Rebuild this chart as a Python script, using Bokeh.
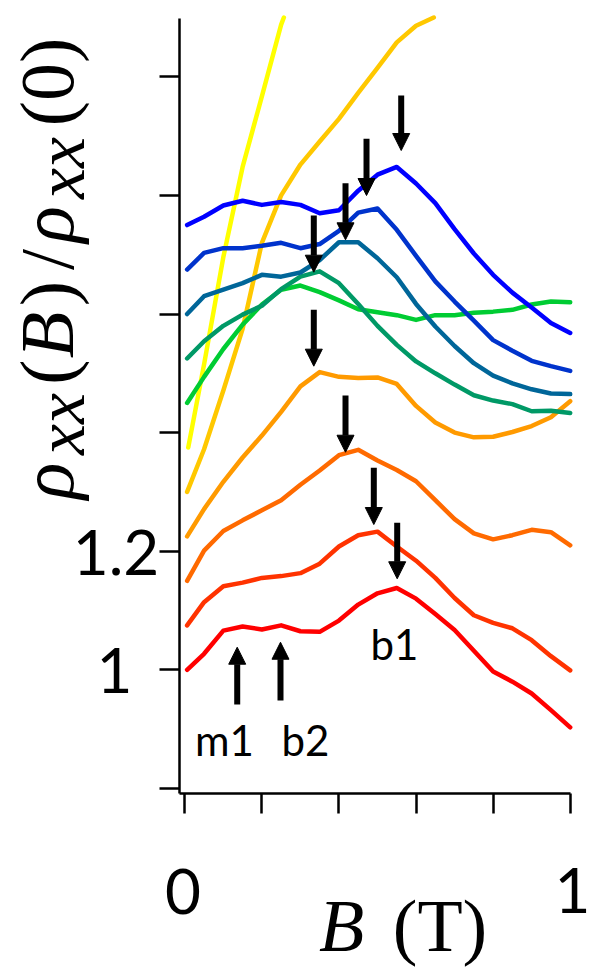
import numpy as np
from bokeh.plotting import figure
from bokeh.models import Range1d, FixedTicker, Label, Arrow, NormalHead, CustomJSTickFormatter
from bokeh.embed import file_html
from bokeh.resources import INLINE

# ---- data (B in tesla, rho_xx(B)/rho_xx(0), curves offset for clarity) ----
B = [0.006, 0.05, 0.10, 0.15, 0.20, 0.25, 0.30, 0.35, 0.40, 0.45, 0.50,
     0.55, 0.60, 0.65, 0.70, 0.75, 0.80, 0.85, 0.90, 0.95, 1.00]

red        = [1.000, 1.027, 1.066, 1.073, 1.068, 1.075, 1.065, 1.064, 1.083, 1.110, 1.129,
              1.138, 1.120, 1.094, 1.067, 1.032, 0.997, 0.980, 0.960, 0.932, 0.903]
red_orange = [1.075, 1.114, 1.141, 1.147, 1.155, 1.158, 1.163, 1.179, 1.208, 1.227, 1.233,
              1.208, 1.184, 1.155, 1.121, 1.092, 1.079, 1.070, 1.050, 1.023, 0.999]
orange     = [1.150, 1.201, 1.234, 1.252, 1.269, 1.286, 1.312, 1.336, 1.362, 1.371, 1.353,
              1.337, 1.318, 1.286, 1.254, 1.230, 1.220, 1.227, 1.236, 1.232, 1.210]
amber      = [1.225, 1.271, 1.317, 1.358, 1.395, 1.435, 1.478, 1.502, 1.494, 1.492, 1.493,
              1.482, 1.445, 1.417, 1.400, 1.392, 1.393, 1.401, 1.411, 1.426, 1.453]
green      = [1.450, 1.494, 1.541, 1.582, 1.616, 1.641, 1.648, 1.637, 1.623, 1.608, 1.603,
              1.598, 1.590, 1.598, 1.598, 1.602, 1.604, 1.607, 1.616, 1.621, 1.620]
teal_green = [1.525, 1.554, 1.580, 1.599, 1.614, 1.642, 1.663, 1.672, 1.652, 1.617, 1.580,
              1.548, 1.520, 1.500, 1.481, 1.463, 1.454, 1.448, 1.436, 1.437, 1.433]
teal_blue  = [1.600, 1.630, 1.641, 1.652, 1.666, 1.663, 1.670, 1.691, 1.721, 1.721, 1.694,
              1.662, 1.617, 1.579, 1.546, 1.517, 1.496, 1.483, 1.473, 1.466, 1.465]
dark_blue  = [1.675, 1.703, 1.711, 1.711, 1.715, 1.720, 1.711, 1.718, 1.740, 1.771, 1.778,
              1.742, 1.698, 1.655, 1.621, 1.589, 1.556, 1.538, 1.521, 1.512, 1.504]
blue       = [1.750, 1.764, 1.783, 1.791, 1.784, 1.789, 1.784, 1.770, 1.775, 1.808, 1.835,
              1.848, 1.820, 1.787, 1.743, 1.702, 1.666, 1.636, 1.611, 1.585, 1.568]

B_gold = [0.006, 0.05, 0.10, 0.15, 0.20, 0.25, 0.30, 0.35, 0.40, 0.45, 0.50, 0.55, 0.60, 0.646]
gold   = [1.300, 1.372, 1.471, 1.575, 1.720, 1.800, 1.852, 1.891, 1.929, 1.973, 2.015, 2.058, 2.086, 2.100]

B_yellow = [0.009, 0.05, 0.10, 0.15, 0.20, 0.25, 0.257]
yellow   = [1.375, 1.515, 1.696, 1.848, 1.967, 2.088, 2.100]

# peak markers (down arrows) and low-field markers (up arrows)
peak_B      = [0.5615, 0.4715, 0.4170, 0.3347, 0.3347, 0.4170, 0.4904, 0.5511]
peak_top    = [1.9685, 1.8954, 1.8206, 1.7661, 1.6071, 1.4626, 1.3406, 1.2479]
peak_tip    = [1.8757, 1.7998, 1.7251, 1.6705, 1.5120, 1.3669, 1.2450, 1.1535]
low_B       = [0.136, 0.2483]
low_tail    = [0.9415, 0.9482]
low_tip     = [1.0381, 1.0465]

x_ticks = [0.0, 0.2, 0.4, 0.6, 0.8, 1.0]
y_ticks = [0.8, 1.0, 1.2, 1.4, 1.6, 1.8, 2.0]
x_bounds = (-0.0138, 1.0008)
y_bounds = (0.7914, 2.0983)

# ---- figure: the frame fills the page, axes sit at fixed data locations ----
p = figure(width=591, height=969,
           x_range=Range1d(-0.47821, 1.05526), y_range=Range1d(0.49461, 2.12867),
           output_backend="svg", toolbar_location=None,
           min_border_left=0, min_border_right=0, min_border_top=0, min_border_bottom=0)
p.grid.visible = False
p.outline_line_color = None
p.background_fill_color = "white"
p.border_fill_color = "white"

blank = CustomJSTickFormatter(code="return ''")
p.xaxis.fixed_location = y_bounds[0]
p.yaxis.fixed_location = x_bounds[0]
p.xaxis.bounds = x_bounds
p.yaxis.bounds = y_bounds
for ax, ticks in ((p.xaxis, x_ticks), (p.yaxis, y_ticks)):
    ax.ticker = FixedTicker(ticks=ticks, minor_ticks=[])
    ax.formatter = blank
    ax.major_tick_out = 20
    ax.major_tick_in = 0
    ax.major_tick_line_width = 2.5
    ax.major_tick_line_color = "black"
    ax.axis_line_width = 2.5
    ax.axis_line_color = "black"
    ax.minor_tick_line_color = None

series = [
    (B_yellow, yellow, "#FFFF00"),
    (B_gold, gold, "#FFC800"),
    (B, red, "#FF0000"),
    (B, red_orange, "#FF3300"),
    (B, orange, "#FF6A00"),
    (B, amber, "#FF9A00"),
    (B, green, "#00CC33"),
    (B, teal_green, "#009966"),
    (B, teal_blue, "#006699"),
    (B, dark_blue, "#0033CC"),
    (B, blue, "#0000FF"),
]
for xs, ys, c in series:
    p.line(xs, ys, line_color=c, line_width=4.5, line_cap="round", line_join="round")

for xb, y0, y1 in list(zip(peak_B, peak_top, peak_tip)) + list(zip(low_B, low_tail, low_tip)):
    p.add_layout(Arrow(x_start=xb, y_start=y0, x_end=xb, y_end=y1,
                       line_width=6, line_color="black",
                       end=NormalHead(size=17, fill_color="black", line_color="black", line_width=1)))

def lab(x, y, text, size, font="Lato", style="normal", angle=0.0, align="center"):
    p.add_layout(Label(x=x, y=y, text=text, text_font=font, text_font_size=f"{size}px",
                       text_font_style=style, text_color="black", angle=angle,
                       text_align=align, text_baseline="middle"))

# tick labels
lab(-0.1824, 0.9988, "1", 62)
lab(-0.1785, 1.1970, "1.2", 62)
lab(-0.0047, 0.6261, "0", 62)
lab(1.0527, 0.6278, "1", 62, align="right")

# feature labels
lab(0.1030, 0.8808, "m1", 42)
lab(0.3132, 0.8808, "b2", 42)
lab(0.5441, 1.0427, "b1", 42)

# x axis title
lab(0.4066, 0.5688, "B", 74, font="Liberation Serif", style="italic")
lab(0.6622, 0.5688, "(T)", 74, font="Liberation Serif")

# y axis title, rotated, assembled piece by piece
rot = np.pi / 2
yl = [("ρ", "italic", 1.3184, -0.3578, 76),
      ("xx", "italic", 1.4145, -0.3215, 70),
      ("(", "normal", 1.5022, -0.3578, 76),
      ("B", "italic", 1.5646, -0.3578, 76),
      (")", "normal", 1.6346, -0.3578, 76),
      ("/", "normal", 1.6919, -0.3578, 76),
      ("ρ", "italic", 1.7509, -0.3578, 76),
      ("xx", "italic", 1.8462, -0.3215, 70),
      ("(0)", "normal", 1.9912, -0.3578, 76)]
for t, st, yy, xx, sz in yl:
    lab(xx, yy, t, sz, font="Liberation Serif", style=st, angle=rot)

open("out.html", "w").write(file_html(p, INLINE))
